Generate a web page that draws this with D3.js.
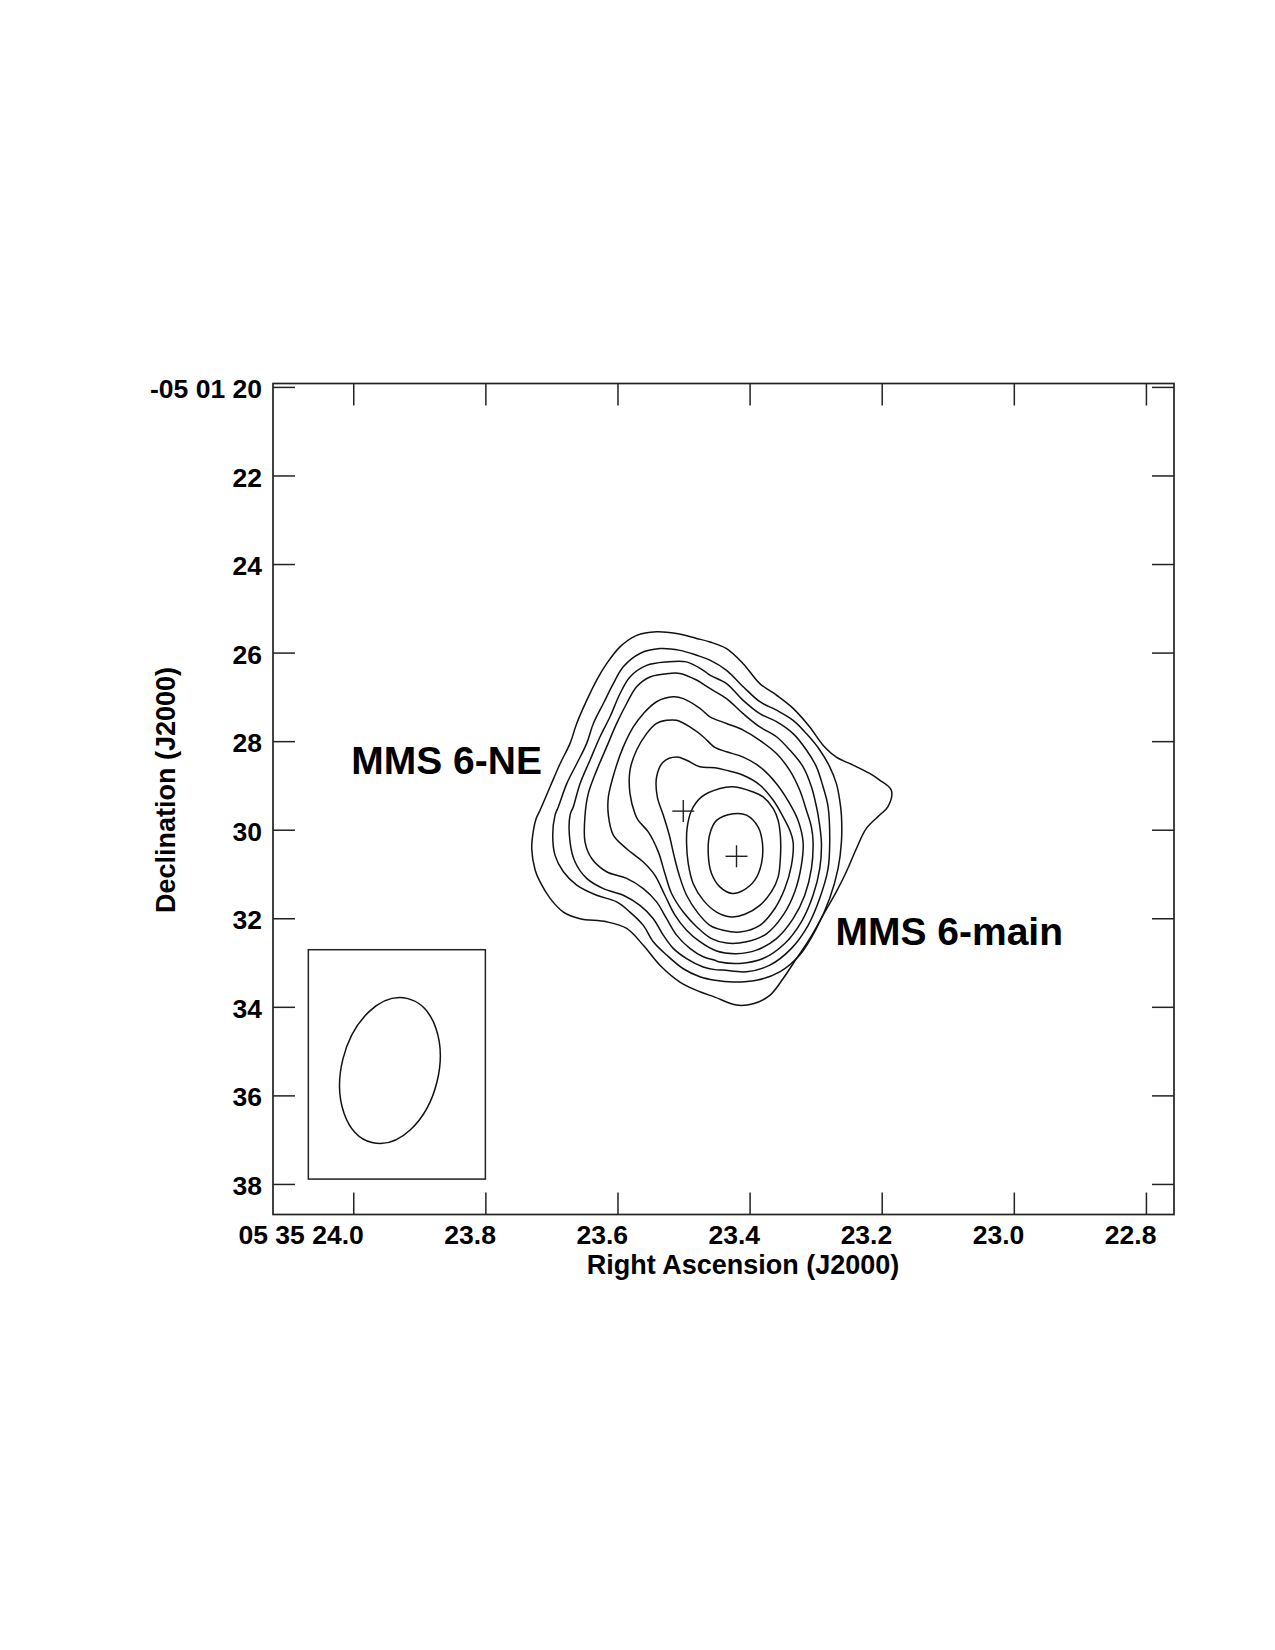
<!DOCTYPE html>
<html>
<head>
<meta charset="utf-8">
<script src="https://cdn.jsdelivr.net/npm/d3@7"></script>
<style>
  body { margin: 0; background: #fff; }
  svg text { font-family: "Liberation Sans", Arial, Helvetica, sans-serif; font-weight: bold; fill: #000; }
</style>
</head>
<body>
<div id="chart"></div>
<script>
// Axis values: RA in seconds of time after 05h35m, Dec in arcsec below -05d01m
const raTicks = [24.0, 23.8, 23.6, 23.4, 23.2, 23.0, 22.8];
const raTickLabels = ["05 35 24.0", "23.8", "23.6", "23.4", "23.2", "23.0", "22.8"];
const decTicks = [20, 22, 24, 26, 28, 30, 32, 34, 36, 38];
const decTickLabels = ["-05 01 20", "22", "24", "26", "28", "30", "32", "34", "36", "38"];
const raExtent = [24.1215, 22.7575];
const decExtent = [19.923, 38.69];

// Contour levels, outermost first, as [RA s, Dec arcsec]
const contour1 = [[23.5408,25.53],[23.5105,25.57],[23.4803,25.68],[23.4601,25.76],[23.4349,25.91],[23.4097,26.25],[23.3845,26.70],[23.3593,26.96],[23.3341,27.26],[23.3089,27.68],[23.2888,28.09],[23.2686,28.36],[23.2434,28.54],[23.2182,28.73],[23.2031,28.88],[23.1854,29.11],[23.1905,29.48],[23.2031,29.67],[23.2232,29.97],[23.2384,30.43],[23.2535,30.95],[23.2686,31.40],[23.2888,31.93],[23.3089,32.46],[23.3291,32.91],[23.3492,33.36],[23.3694,33.74],[23.3946,33.93],[23.4198,33.96],[23.4526,33.78],[23.4752,33.66],[23.5055,33.44],[23.5357,33.06],[23.5609,32.61],[23.5861,32.23],[23.6164,32.08],[23.6567,32.01],[23.6819,31.86],[23.7020,31.55],[23.7172,31.18],[23.7247,30.91],[23.7298,30.43],[23.7272,30.01],[23.7232,29.75],[23.7172,29.56],[23.7020,29.03],[23.6869,28.51],[23.6718,28.05],[23.6617,27.60],[23.6466,27.08],[23.6315,26.62],[23.6164,26.25],[23.5962,25.87],[23.5710,25.61]];
const contour2 = [[23.5357,25.91],[23.5055,25.95],[23.4803,26.06],[23.4601,26.17],[23.4349,26.40],[23.4097,26.77],[23.3845,27.11],[23.3593,27.30],[23.3341,27.53],[23.3140,27.83],[23.2938,28.20],[23.2787,28.58],[23.2686,28.96],[23.2636,29.33],[23.2610,29.67],[23.2610,30.28],[23.2661,30.88],[23.2787,31.55],[23.2988,32.23],[23.3240,32.83],[23.3543,33.21],[23.3896,33.40],[23.4248,33.44],[23.4526,33.40],[23.4752,33.32],[23.5004,33.14],[23.5256,32.83],[23.5458,32.53],[23.5609,32.16],[23.5811,31.86],[23.6012,31.63],[23.6315,31.48],[23.6617,31.25],[23.6819,30.95],[23.6945,30.58],[23.6980,30.12],[23.6945,29.67],[23.6894,29.48],[23.6768,28.96],[23.6617,28.51],[23.6466,28.05],[23.6365,27.60],[23.6214,27.15],[23.6063,26.70],[23.5912,26.32],[23.5660,26.02]];
const contour3 = [[23.5256,26.21],[23.4954,26.21],[23.4702,26.40],[23.4601,26.51],[23.4349,26.70],[23.4097,27.08],[23.3845,27.38],[23.3593,27.56],[23.3341,27.83],[23.3140,28.20],[23.2988,28.58],[23.2888,29.03],[23.2812,29.48],[23.2787,30.28],[23.2812,30.88],[23.2938,31.55],[23.3114,32.16],[23.3366,32.68],[23.3694,33.06],[23.4047,33.21],[23.4400,33.17],[23.4526,33.16],[23.4702,33.10],[23.4954,32.91],[23.5156,32.68],[23.5307,32.38],[23.5458,32.01],[23.5660,31.71],[23.5912,31.48],[23.6214,31.33],[23.6466,31.10],[23.6642,30.73],[23.6718,30.28],[23.6718,29.67],[23.6668,29.48],[23.6567,28.96],[23.6416,28.43],[23.6264,27.90],[23.6113,27.45],[23.5962,26.93],[23.5811,26.55],[23.5559,26.29]];
const contour4 = [[23.5206,26.47],[23.5055,26.47],[23.4803,26.62],[23.4601,26.81],[23.4349,27.04],[23.4097,27.38],[23.3845,27.68],[23.3593,27.90],[23.3392,28.20],[23.3190,28.58],[23.3064,29.03],[23.2988,29.48],[23.2963,29.67],[23.2913,30.28],[23.2938,30.88],[23.3039,31.48],[23.3216,32.08],[23.3467,32.57],[23.3795,32.91],[23.4148,33.02],[23.4450,32.99],[23.4526,32.95],[23.4702,32.87],[23.4904,32.68],[23.5105,32.38],[23.5256,32.01],[23.5408,31.63],[23.5609,31.33],[23.5861,31.10],[23.6164,30.95],[23.6390,30.65],[23.6491,30.28],[23.6491,29.67],[23.6441,29.18],[23.6315,28.66],[23.6164,28.13],[23.6012,27.60],[23.5861,27.15],[23.5710,26.77],[23.5508,26.55]];
const contour5 = [[23.5156,27.00],[23.5004,27.04],[23.4752,27.26],[23.4601,27.45],[23.4349,27.60],[23.4097,27.75],[23.3845,27.98],[23.3593,28.28],[23.3392,28.66],[23.3240,29.11],[23.3140,29.56],[23.3064,29.94],[23.3039,30.28],[23.3064,30.88],[23.3165,31.48],[23.3341,32.01],[23.3593,32.46],[23.3896,32.72],[23.4198,32.80],[23.4500,32.74],[23.4752,32.53],[23.4954,32.27],[23.5130,31.93],[23.5282,31.48],[23.5433,31.03],[23.5609,30.73],[23.5861,30.43],[23.6063,30.12],[23.6138,29.67],[23.6138,29.26],[23.6038,28.66],[23.5912,28.13],[23.5760,27.68],[23.5609,27.38],[23.5408,27.11]];
const contour6 = [[23.5256,27.53],[23.5105,27.53],[23.4904,27.68],[23.4702,27.90],[23.4526,28.14],[23.4349,28.24],[23.4097,28.36],[23.3845,28.58],[23.3593,28.96],[23.3392,29.41],[23.3266,29.79],[23.3190,30.28],[23.3216,30.80],[23.3316,31.40],[23.3492,31.93],[23.3744,32.35],[23.4047,32.53],[23.4349,32.56],[23.4576,32.46],[23.4803,32.19],[23.5004,31.86],[23.5181,31.44],[23.5282,30.99],[23.5382,30.50],[23.5534,30.05],[23.5685,29.79],[23.5735,29.64],[23.5811,29.18],[23.5811,28.66],[23.5710,28.20],[23.5559,27.83],[23.5408,27.60]];
const contour7 = [[23.5105,28.36],[23.4954,28.43],[23.4752,28.58],[23.4526,28.60],[23.4349,28.66],[23.4097,28.77],[23.3845,28.99],[23.3644,29.33],[23.3492,29.71],[23.3392,30.01],[23.3341,30.28],[23.3366,30.80],[23.3467,31.33],[23.3618,31.78],[23.3845,32.16],[23.4148,32.31],[23.4400,32.27],[23.4601,32.16],[23.4778,31.89],[23.4954,31.48],[23.5065,31.03],[23.5145,30.58],[23.5216,30.12],[23.5307,29.67],[23.5397,29.26],[23.5408,28.81],[23.5307,28.47]];
const contour8 = [[23.4248,29.03],[23.3946,29.15],[23.3795,29.26],[23.3644,29.52],[23.3568,29.79],[23.3533,30.16],[23.3533,30.61],[23.3568,31.07],[23.3669,31.40],[23.3845,31.71],[23.4072,31.91],[23.4274,31.97],[23.4500,31.86],[23.4702,31.59],[23.4853,31.22],[23.4929,30.76],[23.4954,30.31],[23.4944,29.94],[23.4878,29.56],[23.4727,29.26],[23.4450,29.07]];
const contour9 = [[23.4248,29.64],[23.4047,29.67],[23.3870,29.94],[23.3805,30.31],[23.3820,30.76],[23.3921,31.14],[23.4097,31.37],[23.4263,31.44],[23.4450,31.29],[23.4576,30.99],[23.4626,30.54],[23.4601,30.09],[23.4500,29.79]];
const contours = [contour1, contour2, contour3, contour4, contour5, contour6, contour7, contour8, contour9];

// Peak positions (crosses) and source names
const peaks = [[23.5004, 29.58], [23.4198, 30.60]];
const sourceNames = ["MMS 6-NE", "MMS 6-main"];
const sourceLabelPos = [[24.0030, 28.75], [23.2700, 32.61]];

// Synthesized beam: box corners and ellipse (arcsec, PA in degrees)
const beamBoxRa = [24.068, 23.800];
const beamBoxDec = [32.71, 37.89];
const beamCenter = [23.9445, 35.44];
const beamAxes = [3.35, 2.19];
const beamPA = -14;

const margin = { top: 383.5, left: 273 };
const width = 901;
const height = 831;

const svg = d3.select("#chart")
  .append("svg")
  .attr("width", 1275)
  .attr("height", 1650);

const g = svg.append("g")
  .attr("transform", `translate(${margin.left},${margin.top})`);

const x = d3.scaleLinear().domain(raExtent).range([0, width]);
const y = d3.scaleLinear().domain(decExtent).range([0, height]);

// Ticks point inward on all four sides
const tickLen = -22;

const bottomAxis = g.append("g")
  .attr("transform", `translate(0,${height})`)
  .call(d3.axisBottom(x).tickValues(raTicks)
    .tickFormat((d, i) => raTickLabels[i])
    .tickSizeInner(tickLen).tickSizeOuter(0).tickPadding(11));
bottomAxis.selectAll("text")
  .attr("text-anchor", "end")
  .attr("x", 10)
  .style("font-size", "26.5px");

g.append("g")
  .call(d3.axisTop(x).tickValues(raTicks).tickFormat("")
    .tickSizeInner(tickLen).tickSizeOuter(0));

const leftAxis = g.append("g")
  .call(d3.axisLeft(y).tickValues(decTicks)
    .tickFormat((d, i) => decTickLabels[i])
    .tickSizeInner(tickLen).tickSizeOuter(0).tickPadding(11));
leftAxis.selectAll("text")
  .attr("dy", "0.4em")
  .style("font-size", "26.5px");

g.append("g")
  .attr("transform", `translate(${width},0)`)
  .call(d3.axisRight(y).tickValues(decTicks).tickFormat("")
    .tickSizeInner(tickLen).tickSizeOuter(0));

g.selectAll(".domain").remove();
g.selectAll(".tick line")
  .attr("stroke", "#222")
  .attr("stroke-width", 1.5);

// Frame
g.append("rect")
  .attr("width", width)
  .attr("height", height)
  .attr("fill", "none")
  .attr("stroke", "#222")
  .attr("stroke-width", 1.7);

// Contours
const line = d3.line()
  .x(d => x(d[0]))
  .y(d => y(d[1]))
  .curve(d3.curveCatmullRomClosed.alpha(0.5));

g.selectAll("path.contour")
  .data(contours)
  .join("path")
  .attr("class", "contour")
  .attr("d", line)
  .attr("fill", "none")
  .attr("stroke", "#111")
  .attr("stroke-width", 1.5)
  .attr("stroke-linejoin", "round");

// Peak crosses
const arm = 11;
const crosses = g.selectAll("g.peak")
  .data(peaks)
  .join("g")
  .attr("class", "peak")
  .attr("transform", d => `translate(${x(d[0])},${y(d[1])})`);
crosses.append("line").attr("x1", -arm).attr("x2", arm);
crosses.append("line").attr("y1", -arm).attr("y2", arm);
crosses.selectAll("line").attr("stroke", "#222").attr("stroke-width", 1.4);

// Source names
g.selectAll("text.src")
  .data(sourceNames)
  .join("text")
  .attr("class", "src")
  .attr("x", (d, i) => x(sourceLabelPos[i][0]))
  .attr("y", (d, i) => y(sourceLabelPos[i][1]))
  .style("font-size", "39px")
  .text(d => d);

// Beam box and ellipse
g.append("rect")
  .attr("x", x(beamBoxRa[0]))
  .attr("y", y(beamBoxDec[0]))
  .attr("width", x(beamBoxRa[1]) - x(beamBoxRa[0]))
  .attr("height", y(beamBoxDec[1]) - y(beamBoxDec[0]))
  .attr("fill", "none")
  .attr("stroke", "#222")
  .attr("stroke-width", 1.5);

const secPerArcsec = 1 / (15 * Math.cos((5 + 1 / 60 + 30 / 3600) * Math.PI / 180));
g.append("ellipse")
  .attr("cx", 0)
  .attr("cy", 0)
  .attr("rx", Math.abs(x(beamCenter[0] + beamAxes[1] / 2 * secPerArcsec) - x(beamCenter[0])))
  .attr("ry", Math.abs(y(beamCenter[1] + beamAxes[0] / 2) - y(beamCenter[1])))
  .attr("transform", `translate(${x(beamCenter[0])},${y(beamCenter[1])}) rotate(${-beamPA})`)
  .attr("fill", "none")
  .attr("stroke", "#111")
  .attr("stroke-width", 1.5);

// Axis titles
svg.append("text")
  .attr("x", 743)
  .attr("y", 1274)
  .attr("text-anchor", "middle")
  .style("font-size", "27px")
  .text("Right Ascension (J2000)");

svg.append("text")
  .attr("transform", "translate(175,790) rotate(-90)")
  .attr("text-anchor", "middle")
  .style("font-size", "27px")
  .text("Declination (J2000)");
</script>
</body>
</html>
